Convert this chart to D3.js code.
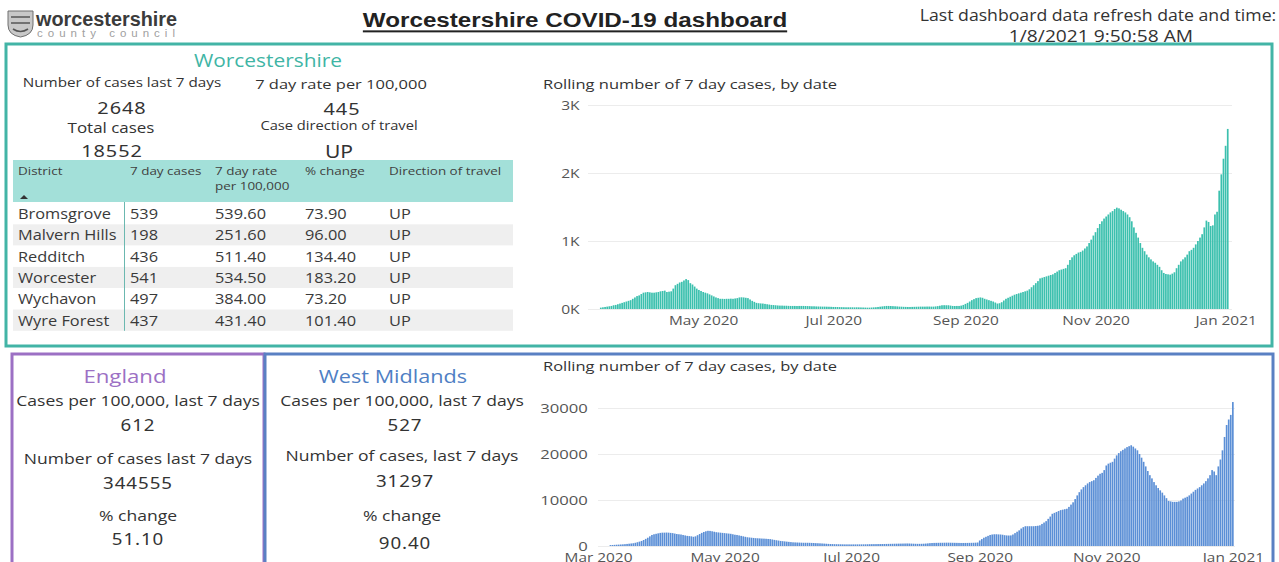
<!DOCTYPE html>
<html>
<head>
<meta charset="utf-8">
<script src="https://cdn.jsdelivr.net/npm/d3@7"></script>
<style>
  body { margin: 0; background: #fff; overflow: hidden; }
  svg text { font-family: "Open Sans", "Noto Sans", sans-serif; fill: #333; }
</style>
</head>
<body>
<svg id="dash" width="1279" height="562"></svg>
<script>
// ---- data ----
const districts = ["Bromsgrove", "Malvern Hills", "Redditch", "Worcester", "Wychavon", "Wyre Forest"]
const cases7 = [539, 198, 436, 541, 497, 437]
const rate7 = [539.60, 251.60, 511.40, 534.50, 384.00, 431.40]
const pctChange = [73.90, 96.00, 134.40, 183.20, 73.20, 101.40]
const direction = ["UP", "UP", "UP", "UP", "UP", "UP"]
const tableHeaders = ["District", "7 day cases", "7 day rate|per 100,000", "% change", "Direction of travel"]

const worcsCases7 = 2648
const worcsRate = 445
const worcsTotal = 18552
const worcsDirection = "UP"

const englandStats = ["612", "344555", "51.10"]
const wmStats = ["527", "31297", "90.40"]

// rolling 7 day cases, Worcestershire, daily from 14 Mar 2020
const worcsStart = new Date(2020, 2, 14)
const worcsRolling = [
  20, 25, 30, 35, 40, 45, 55,
  60, 70, 80, 90, 100, 110, 120,
  130, 150, 170, 190, 200, 220, 240,
  245, 250, 245, 240, 240, 245, 250,
  260, 265, 270, 250, 255, 260, 300,
  350, 370, 390, 400, 420, 440, 425,
  380, 360, 330, 300, 280, 265, 250,
  240, 230, 215, 200, 185, 170, 160,
  150, 150, 148, 150, 150, 152, 150,
  155, 160, 170, 172, 170, 165, 160,
  140, 120, 105, 90, 85, 82, 80,
  75, 70, 65, 60, 58, 55, 52,
  50, 50, 48, 48, 46, 45, 45,
  45, 44, 45, 45, 45, 44, 43,
  42, 40, 40, 38, 37, 36, 35,
  35, 34, 33, 32, 30, 30, 29,
  28, 27, 26, 25, 25, 25, 25,
  24, 25, 24, 23, 22, 21, 20,
  20, 22, 24, 26, 30, 34, 38,
  42, 45, 45, 44, 42, 40, 38,
  35, 34, 32, 31, 30, 30, 31,
  32, 33, 34, 35, 35, 35, 36,
  36, 35, 35, 38, 42, 48, 55,
  56, 55, 55, 50, 45, 44, 45,
  45, 50, 60, 75, 90, 110, 130,
  145, 160, 165, 170, 165, 150, 140,
  130, 120, 110, 95, 80, 85, 100,
  125, 150, 165, 180, 195, 210, 220,
  230, 240, 250, 260, 270, 290, 320,
  350, 380, 410, 450, 460, 470, 480,
  490, 500, 510, 530, 550, 570, 580,
  590, 600, 650, 720, 760, 790, 810,
  830, 840, 860, 890, 920, 970, 1020,
  1080, 1130, 1190, 1250, 1290, 1330, 1360,
  1390, 1420, 1440, 1470, 1490, 1480, 1460,
  1440, 1420, 1390, 1350, 1290, 1200, 1120,
  1050, 970, 900, 850, 800, 760, 730,
  700, 680, 650, 620, 570, 530, 515,
  510, 505, 520, 540, 600, 650, 700,
  730, 760, 800, 850, 870, 900, 950,
  1000, 1050, 1100, 1200, 1300, 1280, 1220,
  1230, 1390, 1430, 1740, 1980, 2210, 2400,
  2648
]

// rolling 7 day cases, West Midlands, daily from 7 Mar 2020
const wmStart = new Date(2020, 2, 7)
const wmRolling = [
  200, 220, 250, 280, 300, 330, 360,
  400, 450, 500, 550, 600, 700, 820,
  950, 1100, 1300, 1550, 1800, 2100, 2400,
  2550, 2650, 2750, 2850, 2900, 2900, 2920,
  2900, 2850, 2800, 2700, 2600, 2550, 2500,
  2400, 2300, 2200, 2150, 2100, 2000, 2100,
  2350, 2600, 2850, 3050, 3200, 3300, 3280,
  3200, 3100, 3000, 2950, 2900, 2850, 2800,
  2750, 2700, 2650, 2550, 2450, 2400, 2300,
  2200, 2100, 2000, 1900, 1850, 1800, 1750,
  1700, 1680, 1650, 1620, 1600, 1570, 1530,
  1500, 1420, 1330, 1250, 1180, 1100, 1050,
  1000, 950, 900, 850, 800, 780, 760,
  740, 720, 700, 700, 700, 690, 670,
  650, 620, 600, 580, 550, 520, 490,
  460, 430, 420, 400, 390, 380, 370,
  360, 350, 350, 350, 345, 350, 350,
  355, 355, 360, 365, 370, 380, 390,
  400, 405, 410, 420, 420, 430, 440,
  450, 460, 470, 480, 490, 500, 510,
  520, 530, 540, 550, 540, 520, 500,
  480, 470, 470, 480, 500, 530, 570,
  620, 650, 670, 680, 690, 700, 700,
  710, 720, 720, 710, 700, 690, 680,
  670, 660, 660, 665, 670, 680, 690,
  700, 720, 760, 1200, 1500, 1800, 2000,
  2200, 2400, 2500, 2550, 2550, 2520, 2500,
  2450, 2350, 2300, 2280, 2300, 2500, 2800,
  3100, 3400, 3800, 4100, 4300, 4300, 4300,
  4300, 4300, 4350, 4400, 4500, 4800, 5100,
  5400, 5900, 6400, 7000, 7200, 7400, 7600,
  7800, 7900, 8000, 8100, 8500, 9000, 9500,
  10200, 11000, 11700, 12300, 12800, 13200, 13600,
  13900, 14100, 14300, 14800, 15300, 15700, 15900,
  16500, 17500, 17900, 18100, 18300, 19000, 19700,
  20200, 20600, 20900, 21200, 21500, 21700, 21900,
  21600, 21200, 20800, 20000, 19200, 18300, 17300,
  16300, 15400, 14700, 13900, 13200, 12600, 12100,
  11600, 11000, 10400, 9800, 9700, 9600, 9600,
  9600, 9700, 9900, 10300, 10500, 10700, 11000,
  11400, 11800, 12200, 12500, 12800, 13200, 13600,
  14100, 14700, 15400, 16500, 16200, 15400, 17300,
  18800, 20800, 23700, 26300, 27500, 28500, 31297
]

const topYTicks = [0, 1000, 2000, 3000]
const topXTicks = [new Date(2020, 4, 1), new Date(2020, 6, 1), new Date(2020, 8, 1), new Date(2020, 10, 1), new Date(2021, 0, 1)]
const botYTicks = [0, 10000, 20000, 30000]
const botXTicks = [new Date(2020, 2, 1), new Date(2020, 4, 1), new Date(2020, 6, 1), new Date(2020, 8, 1), new Date(2020, 10, 1), new Date(2021, 0, 1)]

const teal = "#42b4a6"
const purple = "#9c70c4"
const blue = "#5a80c3"
const SX = 1.17   // the dashboard screenshot is stretched sideways, so is the text
const numFont = "'Noto Sans', 'DejaVu Sans', sans-serif"

const svg = d3.select("#dash")

function label(x, y, txt, size, opts) {
    opts = opts || {}
    let t = svg.append("text")
        .attr("transform", `translate(${x},${y}) scale(${opts.sx || SX},1)`)
        .attr("text-anchor", opts.anchor || "middle")
        .attr("dominant-baseline", "central")
        .style("font-size", size + "px").text(txt)
    if (opts.fill) t.style("fill", opts.fill)
    if (opts.family) t.style("font-family", opts.family)
    if (opts.spacing) t.style("letter-spacing", opts.spacing)
    if (opts.weight) t.style("font-weight", opts.weight)
    return t
}

// ---- header ----
let logo = svg.append("g")
logo.append("path")
    .attr("d", "M8,11 h25 v14 q0,10 -12.5,12 q-12.5,-2 -12.5,-12 Z")
    .attr("fill", "#c8c8c8").attr("stroke", "#6f6f6f").attr("stroke-width", 1)
logo.append("path")
    .attr("d", "M11,17 h19 M11,23 h19 M13,29 q7.5,5 15,0")
    .attr("stroke", "#555").attr("stroke-width", 1.6).attr("fill", "none")
logo.append("text").attr("x", 36).attr("y", 26)
    .style("font-family", "'Liberation Sans', Arial, sans-serif")
    .style("font-size", "20px").style("font-weight", "bold").style("fill", "#3b3b3b")
    .attr("textLength", 141).attr("lengthAdjust", "spacingAndGlyphs")
    .text("worcestershire")
logo.append("text").attr("x", 37).attr("y", 37)
    .style("font-family", "'Liberation Sans', Arial, sans-serif")
    .style("font-size", "11.5px").style("fill", "#a0a0a0")
    .attr("textLength", 138)
    .text("county council")

label(575, 20, "Worcestershire COVID-19 dashboard", 20, { sx: 1.21, weight: "bold", family: "'Liberation Sans', Arial, sans-serif", fill: "#222" })
    .style("text-decoration", "underline")

label(1098, 15, "Last dashboard data refresh date and time:", 15.5, { sx: 1.14 })
label(1101, 36, "1/8/2021 9:50:58 AM", 15.5, { sx: 1.24 })

// ---- panels ----
svg.append("rect").attr("x", 6).attr("y", 44).attr("width", 1266).attr("height", 302)
    .attr("fill", "none").attr("stroke", teal).attr("stroke-width", 3)
svg.append("rect").attr("x", 12).attr("y", 354).attr("width", 252).attr("height", 220)
    .attr("fill", "none").attr("stroke", purple).attr("stroke-width", 3)
svg.append("rect").attr("x", 265).attr("y", 354).attr("width", 1008).attr("height", 220)
    .attr("fill", "none").attr("stroke", blue).attr("stroke-width", 3)

// ---- Worcestershire cards ----
label(268, 60, "Worcestershire", 19, { fill: "#3fb5a5", sx: 1.1 })
label(122, 82, "Number of cases last 7 days", 13.5, { sx: 1.13 })
label(341, 84, "7 day rate per 100,000", 13.5, { sx: 1.22 })
label(122, 107, worcsCases7, 17, { family: numFont, spacing: "0.8px" })
label(342, 108, worcsRate, 17, { family: numFont, spacing: "0.8px" })
label(111, 127, "Total cases", 14.5)
label(339, 125, "Case direction of travel", 13, { sx: 1.13 })
label(112, 150, worcsTotal, 17, { family: numFont, spacing: "0.8px" })
label(339, 151, worcsDirection, 18, { family: numFont })

// ---- district table ----
const colX = [18, 130, 215, 305, 389]
const rowTop = 203, rowH = 21.3
let table = svg.append("g")
table.append("rect").attr("x", 13).attr("y", 160).attr("width", 500).attr("height", 42).attr("fill", "#a3e0d9")
tableHeaders.forEach((h, i) => {
    h.split("|").forEach((line, j) => {
        table.append("text").attr("transform", `translate(${colX[i]},${175 + j * 15}) scale(${SX},1)`)
            .style("font-size", "11.5px").style("fill", "#404040").text(line)
    })
})
table.append("path").attr("d", "M20,199 l4,-4 l4,4 Z").attr("fill", "#333")

let rows = table.selectAll("g.row").data(districts).enter().append("g")
    .attr("class", "row")
    .attr("transform", (d, i) => `translate(0,${rowTop + i * rowH})`)
rows.append("rect").attr("x", 13).attr("width", 500).attr("height", rowH)
    .attr("fill", (d, i) => i % 2 ? "#efefef" : "#fff")
rows.each(function (d, i) {
    let cells = [d, cases7[i], d3.format(".2f")(rate7[i]), d3.format(".2f")(pctChange[i]), direction[i]]
    d3.select(this).selectAll("text").data(cells).enter().append("text")
        .attr("transform", (c, k) => `translate(${colX[k]},${rowH / 2}) scale(${SX},1)`)
        .attr("dominant-baseline", "central")
        .style("font-size", "14px").style("fill", "#3a3a3a")
        .text(c => c)
})
table.append("line").attr("x1", 124.5).attr("x2", 124.5).attr("y1", 202).attr("y2", rowTop + rowH * 6)
    .attr("stroke", "#6bb8b0").attr("stroke-width", 1)

// ---- column chart helper ----
function columnChart(opts) {
    let g = svg.append("g")
    g.append("text").attr("transform", `translate(${opts.titleX},${opts.titleY}) scale(${SX + 0.05},1)`)
        .attr("dominant-baseline", "central")
        .style("font-size", "13.5px").text("Rolling number of 7 day cases, by date")

    let x = d3.scaleTime().domain(opts.xDomain).range(opts.xRange)
    let y = d3.scaleLinear().domain(opts.yDomain).range(opts.yRange)

    let grid = g.append("g").attr("transform", `translate(${opts.xRange[0]},0)`)
        .call(d3.axisLeft(y).tickValues(opts.yTicks).tickSize(-(opts.gridEnd - opts.xRange[0])).tickFormat(""))
    grid.select(".domain").remove()
    grid.selectAll("line").attr("stroke", "#ececec")

    let data = opts.values.map((v, i) => ({ date: d3.timeDay.offset(opts.start, i), value: v }))
    let step = x(d3.timeDay.offset(opts.start, 1)) - x(opts.start)
    let bw = step * 0.8
    g.append("g").selectAll("rect").data(data).enter().append("rect")
        .attr("x", d => x(d.date) - bw / 2)
        .attr("width", bw)
        .attr("y", d => y(d.value))
        .attr("height", d => y(0) - y(d.value))
        .attr("fill", opts.color)

    let yAxis = g.append("g").attr("transform", `translate(${opts.xRange[0]},0)`)
        .call(d3.axisLeft(y).tickValues(opts.yTicks).tickSize(0).tickPadding(opts.yPad).tickFormat(opts.yFormat))
    yAxis.select(".domain").remove()
    yAxis.selectAll("text").style("font-size", "13px").style("fill", "#555")
        .attr("transform", `scale(${opts.ySX},1)`)

    let xAxis = g.append("g").attr("transform", `translate(0,${y(0)})`)
        .call(d3.axisBottom(x).tickValues(opts.xTicks).tickSize(0).tickPadding(opts.xPad).tickFormat(d3.timeFormat("%b %Y")))
    xAxis.select(".domain").remove()
    xAxis.selectAll("text").style("font-size", "13.5px").style("fill", "#555")
        .attr("transform", `scale(${SX - 0.03},1)`)
}

columnChart({
    titleX: 543, titleY: 84,
    xDomain: [new Date(2020, 2, 8), new Date(2021, 0, 4)], xRange: [588, 1232], gridEnd: 1232,
    yDomain: [0, 3000], yRange: [309, 105],
    yTicks: topYTicks, yFormat: d => d / 1000 + "K", yPad: 7, ySX: 1.2,
    xTicks: topXTicks, xPad: 6,
    start: worcsStart, values: worcsRolling, color: "#3cc0ae"
})

columnChart({
    titleX: 543, titleY: 366,
    xDomain: [new Date(2020, 2, 1), new Date(2021, 0, 3)], xRange: [598, 1237], gridEnd: 1235,
    yDomain: [0, 30000], yRange: [546, 408],
    yTicks: botYTicks, yFormat: d3.format("d"), yPad: 8, ySX: 1.28,
    xTicks: botXTicks, xPad: 6,
    start: wmStart, values: wmRolling, color: "#5b8fd6"
})

// ---- England and West Midlands cards ----
const cardLabels = ["Cases per 100,000, last 7 days", "Number of cases last 7 days", "% change"]
const wmLabels = ["Cases per 100,000, last 7 days", "Number of cases, last 7 days", "% change"]
const labelY = [400, 458, 515]
const valueY = [425, 483, 539]

label(125, 376, "England", 19, { fill: purple })
cardLabels.forEach((t, i) => {
    label(138, labelY[i], t, 15)
    label(138, valueY[i], englandStats[i], 16, { family: numFont, spacing: "0.8px" })
})

label(393, 376, "West Midlands", 19, { fill: "#4f7fc4", sx: 1.14 })
wmLabels.forEach((t, i) => {
    label(402, labelY[i] - (i == 1 ? 3 : 0), t, 15)
    label(405, valueY[i] - (i == 1 ? 2 : 0) + (i == 2 ? 4 : 0), wmStats[i], 16, { family: numFont, spacing: "0.8px" })
})
</script>
</body>
</html>
